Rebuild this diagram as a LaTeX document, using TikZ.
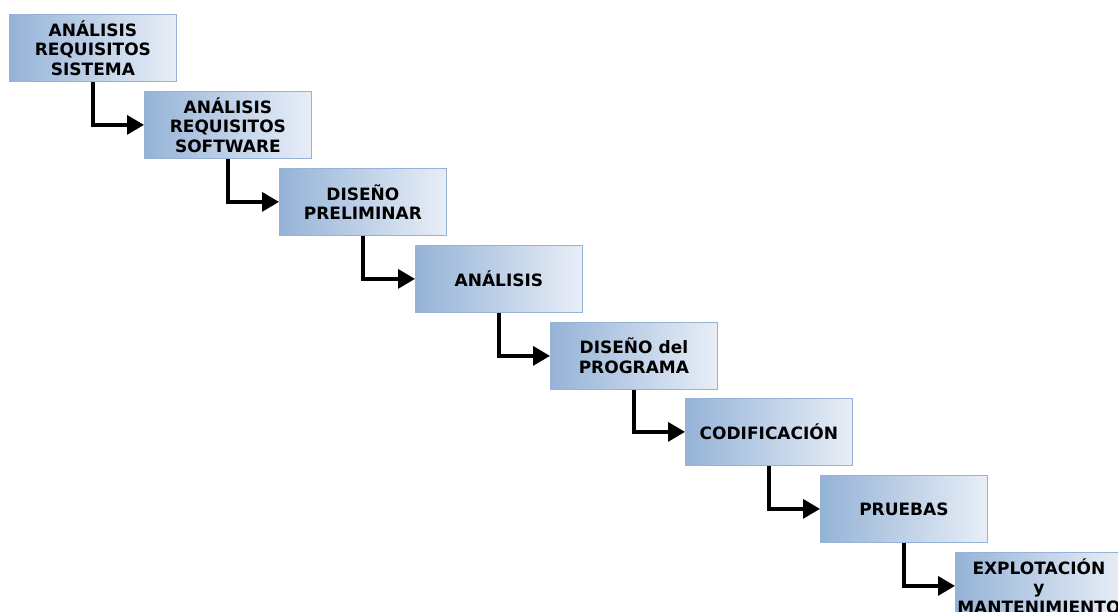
\documentclass[tikz,border=0pt]{standalone}
\usepackage{fontspec}
\setmainfont{DejaVu Sans}
\usetikzlibrary{arrows.meta}
\definecolor{stepdark}{RGB}{149,179,215}
\definecolor{steplight}{RGB}{232,238,247}
\tikzset{
  stepbox/.style={rectangle, anchor=north west, minimum width=167pt, minimum height=67pt,
    left color=stepdark, right color=steplight, draw=stepdark, line width=0.8pt,
    align=center, inner sep=0pt,
    font=\fontsize{17pt}{19.5pt}\selectfont\bfseries, text=black},
  flow/.style={line width=3.4pt, black,
    -{Triangle[length=17pt,width=19pt]}}
}
\begin{document}
\begin{tikzpicture}[x=1pt,y=-1pt]
\useasboundingbox (0,0) rectangle (1118,612);
\clip (0,0) rectangle (1118,612);
\node[stepbox] (s1) at (9,14)    {ANÁLISIS\\REQUISITOS\\SISTEMA};
\node[stepbox] (s2) at (144,91)  {ANÁLISIS\\REQUISITOS\\SOFTWARE};
\node[stepbox] (s3) at (279,168) {DISEÑO\\PRELIMINAR};
\node[stepbox] (s4) at (415,245) {ANÁLISIS};
\node[stepbox] (s5) at (550,322) {DISEÑO del\\PROGRAMA};
\node[stepbox] (s6) at (685,398) {CODIFICACIÓN};
\node[stepbox] (s7) at (820,475) {PRUEBAS};
\node[stepbox] (s8) at (955,552) {EXPLOTACIÓN\\y\\MANTENIMIENTO};
\foreach \a/\b in {s1/s2,s2/s3,s3/s4,s4/s5,s5/s6,s6/s7,s7/s8}
  \draw[flow] (\a.south) |- (\b.west);
\end{tikzpicture}
\end{document}
